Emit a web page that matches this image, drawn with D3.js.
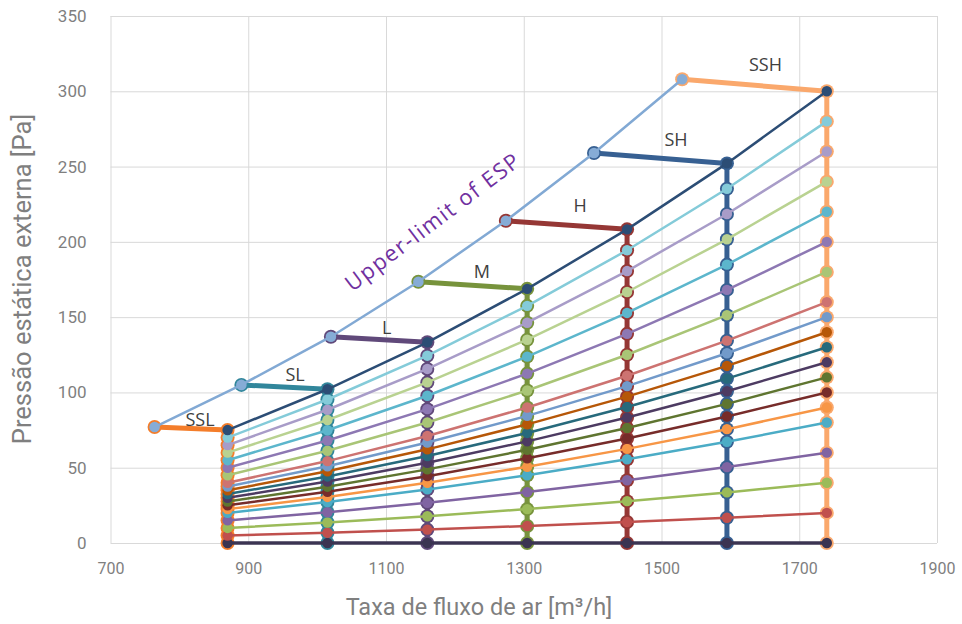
<!DOCTYPE html>
<html><head><meta charset="utf-8">
<script src="https://cdn.jsdelivr.net/npm/d3@7"></script>
<style>body{margin:0;background:#fff}svg{display:block}</style>
</head><body><svg id="c" width="962" height="624"></svg>
<script>
// ---- data ----
const xCols = [870, 1015, 1160, 1305, 1450, 1595, 1740];
const c0   = [0, 0, 0, 0, 0, 0, 0];
const c20  = [5, 6.8, 8.9, 11.3, 13.9, 16.8, 20];
const c40  = [10, 13.6, 17.8, 22.5, 27.8, 33.6, 40];
const c60  = [15, 20.4, 26.7, 33.8, 41.7, 50.4, 60];
const c80  = [20, 27.2, 35.6, 45, 55.6, 67.2, 80];
const c90  = [22.5, 30.6, 40, 50.6, 62.5, 75.6, 90];
const c100 = [25, 34, 44.4, 56.3, 69.4, 84, 100];
const c110 = [27.5, 37.4, 48.9, 61.9, 76.4, 92.4, 110];
const c120 = [30, 40.8, 53.3, 67.5, 83.3, 100.8, 120];
const c130 = [32.5, 44.2, 57.8, 73.1, 90.3, 109.2, 130];
const c140 = [35, 47.6, 62.2, 78.8, 97.2, 117.6, 140];
const c150 = [37.5, 51, 66.7, 84.4, 104.2, 126, 150];
const c160 = [40, 54.4, 71.1, 90, 111.1, 134.4, 160];
const c180 = [45, 61.3, 80, 101.3, 125, 151.3, 180];
const c200 = [50, 68.1, 88.9, 112.5, 138.9, 168.1, 200];
const c220 = [55, 74.9, 97.8, 123.8, 152.8, 184.9, 220];
const c240 = [60, 81.7, 106.7, 135, 166.7, 201.7, 240];
const c260 = [65, 88.5, 115.6, 146.3, 180.6, 218.5, 260];
const c280 = [70, 95.3, 124.4, 157.5, 194.4, 235.3, 280];
const c300 = [75, 102.1, 133.3, 168.8, 208.3, 252.1, 300];
const curves = [c0, c20, c40, c60, c80, c90, c100, c110, c120, c130, c140, c150, c160, c180, c200, c220, c240, c260, c280, c300];
const curveColors = ["#3b3452", "#c0504d", "#9bbb59", "#8064a2", "#4bacc6", "#f79646", "#772c2a", "#5f7530", "#4d3b62", "#276a7c", "#b65708", "#729aca", "#cd7371", "#a9c576", "#8d78b3", "#5cb6cc", "#b9d291", "#a89cc8", "#84cbd9", "#2c4d75"];

const fanNames = ["SSL", "SL", "L", "M", "H", "SH", "SSH"];
const espX = [764, 890, 1020, 1147, 1274, 1402, 1530];
const espY = [77, 105, 137, 173.5, 214, 259, 308];
const fanColors = ["#f47d2a", "#31869b", "#60497a", "#77933c", "#953735", "#376092", "#faa86c"];
const labelX = [830, 968, 1101, 1239, 1382, 1521, 1651];
const labelY = [82, 112, 143, 180, 224, 268, 318];

const xTicks = [700, 900, 1100, 1300, 1500, 1700, 1900];
const yTicks = [0, 50, 100, 150, 200, 250, 300, 350];

// ---- chart ----
const svg = d3.select("#c");
const L = 110.5, R = 937, T = 16, B = 543;
const x = d3.scaleLinear().domain([700, 1900]).range([L, R]);
const y = d3.scaleLinear().domain([0, 350]).range([B, T]);
const fmt = d3.format("d");

// gridlines
svg.append("g").attr("transform", `translate(0,${B})`)
  .call(d3.axisBottom(x).tickValues(xTicks).tickSize(-(B - T)).tickFormat(""))
  .call(g => { g.select(".domain").remove(); g.selectAll("line").attr("stroke", "#d9d9d9").attr("stroke-width", 1); });
svg.append("g").attr("transform", `translate(${L},0)`)
  .call(d3.axisLeft(y).tickValues(yTicks).tickSize(-(R - L)).tickFormat(""))
  .call(g => { g.select(".domain").remove(); g.selectAll("line").attr("stroke", "#d9d9d9").attr("stroke-width", 1); });

// tick labels
svg.append("g").attr("transform", `translate(0,${B})`)
  .call(d3.axisBottom(x).tickValues(xTicks).tickFormat(fmt).tickSize(0).tickPadding(20))
  .call(g => { g.select(".domain").remove(); g.selectAll("text").attr("fill", "#7f7f7f").attr("font-size", "16px").attr("font-family", "Roboto, Arial, sans-serif"); });
svg.append("g").attr("transform", `translate(${L},0)`)
  .call(d3.axisLeft(y).tickValues(yTicks).tickFormat(fmt).tickSize(0).tickPadding(24))
  .call(g => { g.select(".domain").remove(); g.selectAll("text").attr("fill", "#7f7f7f").attr("font-size", "17px").attr("font-family", "Roboto, Arial, sans-serif"); });

// axis titles
svg.append("text").attr("x", 479).attr("y", 615).attr("text-anchor", "middle")
  .attr("fill", "#7f7f7f").attr("font-size", "23.5px").attr("font-family", "Roboto, Arial, sans-serif")
  .text("Taxa de fluxo de ar [m³/h]");
svg.append("text").attr("transform", "translate(31,279) rotate(-90)").attr("text-anchor", "middle")
  .attr("fill", "#7f7f7f").attr("font-size", "25.5px").attr("font-family", "Roboto, Arial, sans-serif")
  .text("Pressão estática externa [Pa]");

const line = d3.line().x(d => x(d[0])).y(d => y(d[1]));

// fan-speed series
fanNames.forEach((n, i) => {
  const pts = [[espX[i], espY[i]]];
  for (let k = curves.length - 1; k >= 0; k--) pts.push([xCols[i], curves[k][i]]);
  svg.append("path").attr("d", line(pts)).attr("fill", "none")
    .attr("stroke", fanColors[i]).attr("stroke-width", 5).attr("stroke-linejoin", "round");
  svg.append("g").selectAll("circle").data(pts).join("circle")
    .attr("cx", d => x(d[0])).attr("cy", d => y(d[1])).attr("r", 7).attr("fill", fanColors[i]);
});

// curves
curves.forEach((c, k) => {
  const pts = xCols.map((xv, i) => [xv, c[i]]);
  svg.append("path").attr("d", line(pts)).attr("fill", "none")
    .attr("stroke", curveColors[k]).attr("stroke-width", k === 0 ? 3.5 : 2.5);
});
curves.forEach((c, k) => {
  const pts = xCols.map((xv, i) => [xv, c[i]]);
  svg.append("g").selectAll("circle").data(pts).join("circle")
    .attr("cx", d => x(d[0])).attr("cy", d => y(d[1])).attr("r", 5.2).attr("fill", curveColors[k]);
});

// upper limit of ESP
const esp = espX.map((v, i) => [v, espY[i]]);
svg.append("path").attr("d", line(esp)).attr("fill", "none").attr("stroke", "#82a9d4").attr("stroke-width", 2.5);
svg.append("g").selectAll("circle").data(esp).join("circle")
  .attr("cx", d => x(d[0])).attr("cy", d => y(d[1])).attr("r", 5.3).attr("fill", "#86acd6");

// labels
fanNames.forEach((n, i) => {
  svg.append("text").attr("x", x(labelX[i])).attr("y", y(labelY[i]) + 6.5).attr("text-anchor", "middle")
    .attr("fill", "#404040").attr("font-size", "18px").attr("font-family", "'Liberation Sans Narrow', 'Open Sans', sans-serif")
    .text(n);
});
svg.append("text").attr("transform", `translate(${x(1167)},${y(213)}) rotate(-37)`).attr("text-anchor", "middle")
  .attr("dy", "0.35em").attr("fill", "#7030a0").attr("font-size", "22px").attr("font-family", "'Open Sans', sans-serif")
  .attr("textLength", 212).attr("lengthAdjust", "spacing")
  .text("Upper-limit of ESP");
</script></body></html>
